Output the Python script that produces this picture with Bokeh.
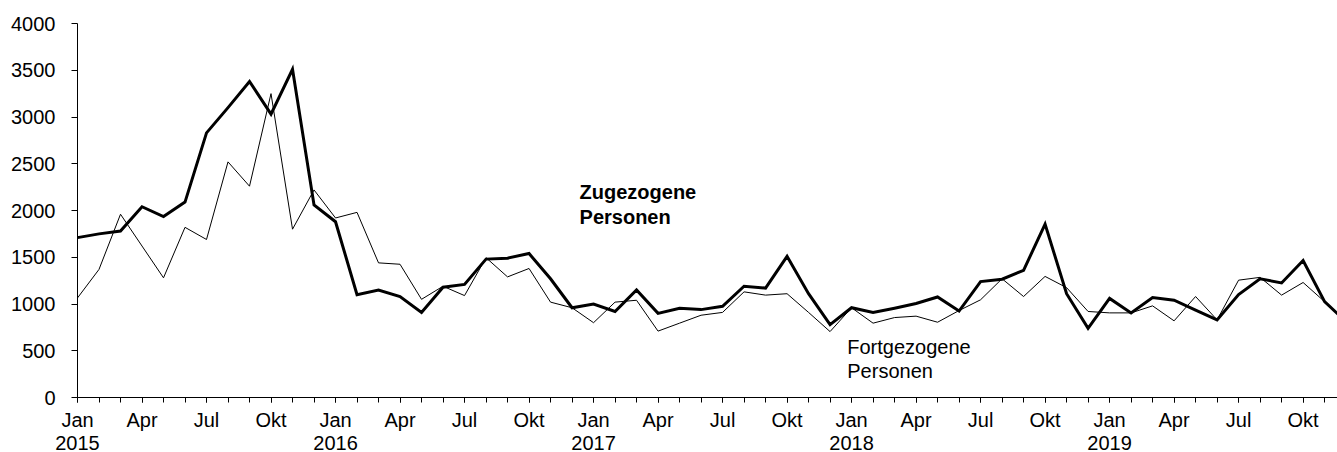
from bokeh.plotting import figure
from bokeh.models import FixedTicker, Range1d, Label, LinearAxis
from bokeh.embed import file_html
from bokeh.resources import INLINE

# ---- data -------------------------------------------------------------
years = [2015, 2016, 2017, 2018, 2019]
month_names = ["Jan", "Apr", "Jul", "Okt"]

zugezogene = [
    1710, 1750, 1780, 2040, 1935, 2090, 2830, 3100, 3380, 3030, 3510, 2060,
    1880, 1100, 1150, 1080, 910, 1180, 1210, 1480, 1490, 1540, 1270, 960,
    1000, 920, 1150, 900, 955, 940, 975, 1190, 1170, 1510, 1110, 780,
    960, 910, 955, 1005, 1075, 925, 1240, 1265, 1360, 1855, 1110, 740,
    1060, 905, 1070, 1040, 935, 830, 1100, 1270, 1225, 1465, 1025, 810,
]
fortgezogene = [
    1065, 1370, 1960, 1620, 1280, 1820, 1690, 2520, 2260, 3250, 1800, 2220,
    1920, 1980, 1440, 1425, 1050, 1190, 1090, 1495, 1290, 1380, 1020, 960,
    800, 1020, 1040, 710, 795, 880, 910, 1130, 1095, 1110, 910, 705,
    960, 795, 855, 870, 805, 930, 1045, 1270, 1080, 1295, 1175, 920,
    905, 905, 980, 820, 1080, 830, 1255, 1285, 1095, 1230, 1025, 800,
]
months = list(range(len(zugezogene)))

FONT = "Liberation Sans"

p = figure(width=1337, height=452, output_backend="svg", toolbar_location=None,
           x_range=Range1d(0, 58.6), y_range=Range1d(0, 4000),
           min_border_left=77, min_border_right=0, min_border_top=23,
           min_border_bottom=55)
p.outline_line_color = None
p.grid.visible = False
p.background_fill_color = "white"

p.line(months, fortgezogene, line_width=1, line_color="black", line_join="miter")
p.line(months, zugezogene, line_width=3, line_color="black", line_join="miter")

# x axis: months
major = list(range(0, len(months), 3))
xa = p.xaxis[0]
xa.ticker = FixedTicker(ticks=major, minor_ticks=months)
xa.major_label_overrides = {t: month_names[(t % 12) // 3] for t in major}
xa.major_tick_out = 5
xa.major_tick_in = 0
xa.minor_tick_out = 5
xa.minor_tick_in = 0
xa.major_label_standoff = 6
xa.major_label_text_font = FONT
xa.major_label_text_font_size = "20px"
xa.major_label_text_color = "black"
xa.axis_line_color = "black"
xa.major_tick_line_color = "black"
xa.minor_tick_line_color = "black"

# second row: years
year_ticks = [12 * i for i in range(len(years))]
ya2 = LinearAxis(ticker=FixedTicker(ticks=year_ticks, minor_ticks=[]),
                 major_label_overrides={t: str(y) for t, y in zip(year_ticks, years)},
                 axis_line_color=None, major_tick_line_color=None,
                 minor_tick_line_color=None, major_tick_out=0, major_tick_in=0,
                 minor_tick_out=0, minor_tick_in=0, major_label_standoff=2,
                 major_label_text_font=FONT, major_label_text_font_size="20px",
                 major_label_text_color="black")
p.add_layout(ya2, "below")

ya = p.yaxis[0]
ya.ticker = FixedTicker(ticks=list(range(0, 4001, 500)), minor_ticks=[])
ya.major_tick_out = 6
ya.major_tick_in = 0
ya.major_label_standoff = 16
ya.major_label_text_font = FONT
ya.major_label_text_font_size = "20px"
ya.major_label_text_color = "black"
ya.axis_line_color = "black"
ya.major_tick_line_color = "black"

# annotations
for txt, yv in (("Zugezogene", 2200), ("Personen", 1935)):
    p.add_layout(Label(x=23.35, y=yv, text=txt, text_font=FONT, text_font_size="20px",
                       text_font_style="bold", text_color="black",
                       text_baseline="alphabetic", text_align="left"))
for txt, yv in (("Fortgezogene", 543), ("Personen", 286)):
    p.add_layout(Label(x=35.8, y=yv, text=txt, text_font=FONT, text_font_size="20px",
                       text_color="black", text_baseline="alphabetic", text_align="left"))

open("out.html", "w").write(file_html(p, INLINE))
